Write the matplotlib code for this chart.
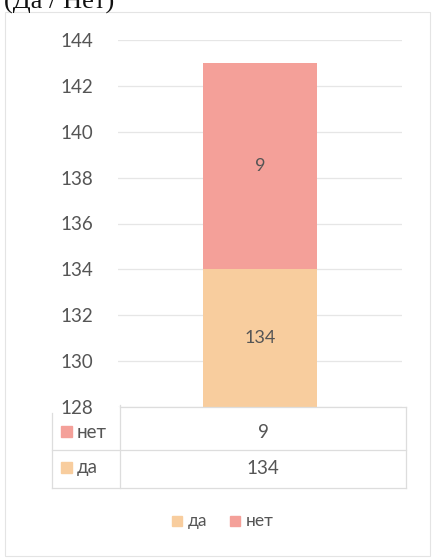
import matplotlib.pyplot as plt
from matplotlib.patches import Rectangle
from matplotlib.lines import Line2D

plt.rcParams['font.family'] = ['Lato', 'DejaVu Sans']

# data
categories = ['']
series_names = ['да', 'нет']
values_da = [134]
values_net = [9]
y_ticks = [128, 130, 132, 134, 136, 138, 140, 142, 144]

col_da = '#f8cd9e'
col_net = '#f4a099'
txt = '#555555'

fig = plt.figure(figsize=(4.34, 5.59), dpi=100)
W, H = 434, 559

def fx(px):
    return px / W

def fy(py):
    return 1 - py / H

# outer chart frame
fig.patches.append(Rectangle((fx(5), fy(556)), fx(425), fy(12) - fy(556),
                             transform=fig.transFigure, fill=False, ec='#e4e4e4', lw=0.8))

# title, cut off at the top edge as in the source
fig.text(fx(4), fy(2), '(Да / Нет)', family='Liberation Serif', fontsize=19,
         color='#111111', va='center', ha='left')

ax = fig.add_axes([fx(118), fy(407), fx(402) - fx(118), fy(40) - fy(407)])
x = range(len(categories))
ax.bar(x, [v - y_ticks[0] for v in values_da], bottom=y_ticks[0], width=0.4, color=col_da, zorder=2)
ax.bar(x, values_net, bottom=values_da, width=0.4, color=col_net, zorder=2)
for i in x:
    ax.text(i, (y_ticks[0] + values_da[i]) / 2, str(values_da[i]), ha='center', va='center',
            fontsize=13, color=txt)
    ax.text(i, values_da[i] + values_net[i] / 2, str(values_net[i]), ha='center', va='center',
            fontsize=13, color=txt)

ax.set_ylim(y_ticks[0], y_ticks[-1])
ax.set_xlim(-0.5, 0.5)
ax.set_yticks(y_ticks)
ax.set_xticks([])
ax.tick_params(axis='y', length=0, labelsize=13.5, labelcolor=txt, pad=18)
ax.grid(axis='y', color='#e6e6e6', lw=0.9, zorder=0)
for s in ax.spines.values():
    s.set_visible(False)

# data table under the axis
line_kw = dict(color='#dddddd', lw=0.9, transform=fig.transFigure)
fig.lines.append(Line2D([fx(120), fx(406)], [fy(407), fy(407)], **line_kw))
fig.lines.append(Line2D([fx(52), fx(406)], [fy(450), fy(450)], **line_kw))
fig.lines.append(Line2D([fx(52), fx(406)], [fy(488), fy(488)], **line_kw))
fig.lines.append(Line2D([fx(52), fx(52)], [fy(413), fy(488)], **line_kw))
fig.lines.append(Line2D([fx(120), fx(120)], [fy(405), fy(488)], **line_kw))
fig.lines.append(Line2D([fx(406), fx(406)], [fy(407), fy(488)], **line_kw))

rows = [('нет', col_net, values_net[0], 432), ('да', col_da, values_da[0], 468)]
for name, col, val, py in rows:
    fig.patches.append(Rectangle((fx(61), fy(py + 5)), fx(11), fy(py - 6) - fy(py + 5),
                                 transform=fig.transFigure, color=col))
    fig.text(fx(77), fy(py), name, fontsize=13.5, color=txt, va='center', ha='left')
    fig.text(fx(263), fy(py), str(val), fontsize=13.5, color=txt, va='center', ha='center')

# legend
leg = [('да', col_da, 172), ('нет', col_net, 230)]
for name, col, px in leg:
    fig.patches.append(Rectangle((fx(px), fy(526)), fx(10), fy(516) - fy(526),
                                 transform=fig.transFigure, color=col))
    fig.text(fx(px + 16), fy(521), name, fontsize=12.5, color=txt, va='center', ha='left')

fig.savefig('out.png', dpi=100, facecolor='white')
